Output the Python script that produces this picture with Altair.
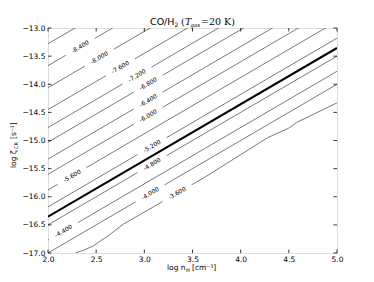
import altair as alt
import pandas as pd

# ---------------- data ----------------
x_ticks = [2.0, 2.5, 3.0, 3.5, 4.0, 4.5, 5.0]
y_ticks = [-17.0, -16.5, -16.0, -15.5, -15.0, -14.5, -14.0, -13.5, -13.0]

# straight contours: level of log CO/H2 and intercept c of  log zeta = log n + c
levels = [-8.8, -8.4, -8.0, -7.6, -7.2, -6.8, -6.4, -6.0, -5.6, -5.2, -4.8, -4.4, -4.0]
intercepts = [-15.28, -15.67, -16.06, -16.45, -16.77, -17.03, -17.33, -17.60,
              -17.88, -18.18, -18.50, -18.77, -19.00]
label_x = [None, 2.335, 2.533, 2.751, 2.924, 3.04, 3.04, 3.04, 2.25, 3.08, 3.08, 2.16, 3.06]

# the slightly wiggly -3.6 contour, point by point
wig_level = -3.6
wig_x = [2.283, 2.37, 2.47, 2.54, 2.62, 2.78, 3.64, 4.28, 4.50, 4.58, 5.0]
wig_y = [-17.0, -16.95, -16.875, -16.79, -16.70, -16.49, -15.64, -14.95, -14.78, -14.68, -14.33]
wig_label_x = 3.34

# thick highlighted contour
thick_x = [2.0, 5.0]
thick_y = [-16.355, -13.355]

GAP = 0.15  # half gap (in log n) left around inline labels

# ---------------- build tables ----------------
def split_line(xs, ys, lx, key):
    rows = []
    seg = 0
    order = 0
    def interp(xa, ya, xb, yb, xv):
        return ya + (yb - ya) * (xv - xa) / (xb - xa)
    pts = list(zip(xs, ys))
    if lx is None:
        for x, y in pts:
            rows.append(dict(x=x, y=y, seg=f"{key}_0", o=order)); order += 1
        return rows
    lo, hi = lx - GAP, lx + GAP
    for i, (x, y) in enumerate(pts):
        if i > 0:
            xp, yp = pts[i - 1]
            if xp < lo <= x:
                rows.append(dict(x=lo, y=interp(xp, yp, x, y, lo), seg=f"{key}_{seg}", o=order)); order += 1
            if xp < hi <= x:
                seg += 1
                rows.append(dict(x=hi, y=interp(xp, yp, x, y, hi), seg=f"{key}_{seg}", o=order)); order += 1
        if x < lo or x > hi:
            s = 0 if x < lo else seg if seg else 1
            rows.append(dict(x=x, y=y, seg=f"{key}_{s}", o=order)); order += 1
    return rows

line_rows = []
label_rows = []
for lev, c, lx in zip(levels, intercepts, label_x):
    xs = [2.0, 5.0]
    ys = [2.0 + c, 5.0 + c]
    line_rows += split_line(xs, ys, lx, str(lev))
    if lx is not None:
        label_rows.append(dict(x=lx, y=lx + c, t=f"{lev:.3f}"))

line_rows += split_line(wig_x, wig_y, wig_label_x, str(wig_level))
for i in range(1, len(wig_x)):
    if wig_x[i - 1] <= wig_label_x <= wig_x[i]:
        yl = wig_y[i - 1] + (wig_y[i] - wig_y[i - 1]) * (wig_label_x - wig_x[i - 1]) / (wig_x[i] - wig_x[i - 1])
        label_rows.append(dict(x=wig_label_x, y=yl, t=f"{wig_level:.3f}"))

lines_df = pd.DataFrame(line_rows)
labels_df = pd.DataFrame(label_rows)
thick_df = pd.DataFrame(dict(x=thick_x, y=thick_y))

W, H = 289, 225
xs = alt.Scale(domain=[2.0, 5.0], nice=False, zero=False)
ys = alt.Scale(domain=[-17.0, -13.0], nice=False, zero=False)
FONT = "DejaVu Sans"
SERIF = "DejaVu Serif"

AX = alt.Axis(values=x_ticks, format=".1f", ticks=False, domain=False,
              grid=False, labelPadding=2, labelFontSize=7.5, labelFont=FONT,
              labelColor="black", title=None, labelFlush=False, labelOverlap=False)
AY = alt.Axis(values=y_ticks, ticks=False, domain=False, grid=False,
              labelExpr="replace(format(datum.value, '.1f'), '-', '\u2212')",
              labelPadding=3, labelFontSize=7.5, labelFont=FONT,
              labelColor="black", title=None, labelFlush=False, labelOverlap=False)

def qx(f):
    return alt.X(f, scale=xs, axis=AX)

def qy(f):
    return alt.Y(f, scale=ys, axis=AY)

contours = alt.Chart(lines_df).mark_line(clip=True, color="#555555", strokeWidth=0.8).encode(
    x=qx("x:Q"), y=qy("y:Q"), detail="seg:N", order="o:Q")

thick = alt.Chart(thick_df).mark_line(clip=True, color="black", strokeWidth=2).encode(
    x=qx("x:Q"), y=qy("y:Q"))

labels = alt.Chart(labels_df).mark_text(angle=329.7, fontSize=6, font=FONT, color="black").encode(
    x=qx("x:Q"), y=qy("y:Q"), text="t:N")

xt = pd.DataFrame(dict(x=x_ticks))
yt = pd.DataFrame(dict(y=y_ticks))
tick_style = dict(color="black", strokeWidth=0.8)
tb = alt.Chart(xt).mark_rule(**tick_style).encode(x=qx("x:Q"), y=alt.value(H), y2=alt.value(H - 3.5))
tt = alt.Chart(xt).mark_rule(**tick_style).encode(x=qx("x:Q"), y=alt.value(0), y2=alt.value(3.5))
tl = alt.Chart(yt).mark_rule(**tick_style).encode(y=qy("y:Q"), x=alt.value(0), x2=alt.value(3.5))
tr = alt.Chart(yt).mark_rule(**tick_style).encode(y=qy("y:Q"), x=alt.value(W), x2=alt.value(W - 3.5))

def txt(s, px, py, size, font=FONT, style="normal", angle=0, align="left", baseline="alphabetic"):
    kw = dict(fontSize=size, font=font, fontStyle=style, align=align, baseline=baseline, color="black")
    if angle:
        kw["angle"] = angle
    return alt.Chart(pd.DataFrame(dict(t=[s]))).mark_text(**kw).encode(
        x=alt.value(px), y=alt.value(py), text="t:N")

# title: CO/H2 (T_gas = 20 K)
title_parts = [
    txt("CO/H", 102, -3.5, 9.5),
    txt("2", 126.5, -1.5, 6),
    txt("(", 133, -3.5, 9.5, SERIF),
    txt("T", 137, -3.5, 9.5, SERIF, "italic"),
    txt("gas", 142.5, -1.0, 5.5, SERIF, "italic"),
    txt("=20 K)", 153, -3.5, 9.5, SERIF),
]
# x axis title: log n_H [cm^-3]
xtitle = [
    txt("log n", 119, 241.5, 7.5),
    txt("H", 138, 243.5, 5),
    txt("[cm\u207b\u00b3]", 144, 241.5, 7.5),
]
# y axis title: log zeta_CR [s^-1]
ytitle = [
    txt("log \u03b6", -32, 140, 7.5, angle=270),
    txt("CR", -30, 121, 5, angle=270),
    txt("[s\u207b\u00b9]", -32, 111, 7.5, angle=270),
]

chart = alt.layer(contours, thick, labels, tb, tt, tl, tr, *title_parts, *xtitle, *ytitle).properties(
    width=W, height=H, autosize=alt.AutoSizeParams(type="none"),
    padding={"left": 40, "top": 20, "right": 25, "bottom": 19},
).configure_view(stroke="black", strokeWidth=1).configure(background="white")

chart.save("out.html", embed_options={"renderer": "svg", "actions": False})
